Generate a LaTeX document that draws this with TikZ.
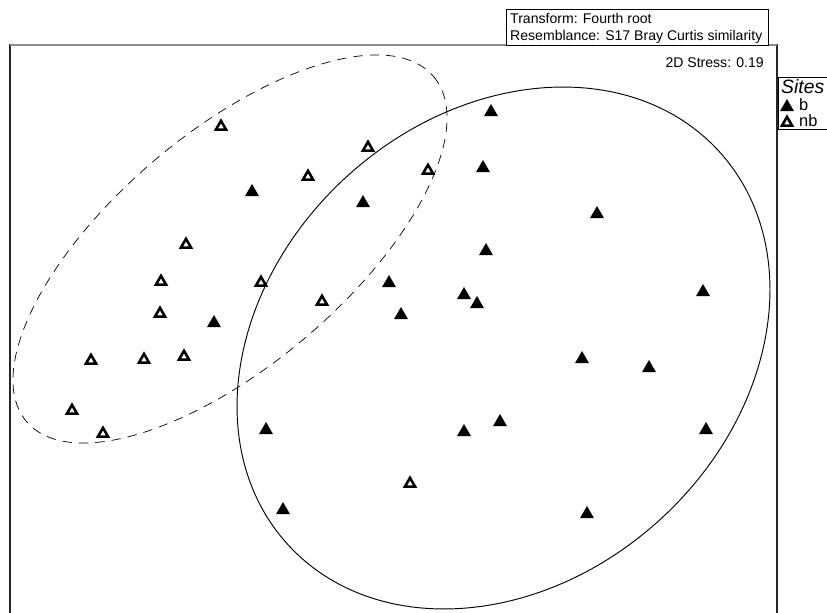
\documentclass[tikz,border=0pt]{standalone}
\usepackage{fontspec}
\setmainfont{Liberation Sans}
\usetikzlibrary{shapes.geometric}

\begin{document}
\begin{tikzpicture}[x=0.03cm,y=-0.03cm,line cap=butt,
  font=\fontsize{12}{14}\selectfont,
  bmark/.style={regular polygon,regular polygon sides=3,fill=black,inner sep=0pt,minimum size=0.48cm,yshift=-0.06cm},
  nbmark/.style={regular polygon,regular polygon sides=3,draw=black,fill=white,line width=2.2pt,inner sep=0pt,minimum size=0.35cm,yshift=-0.05cm},
  infobox/.style={draw=black,line width=0.6pt},
  legtext/.style={anchor=west,inner sep=0pt,font=\fontsize{14}{16}\selectfont}]
\useasboundingbox (0,0) rectangle (827,613);
\clip (0,0) rectangle (827,613);
\fill[white] (0,0) rectangle (827,613);
% plot frame
\draw[black!85,line width=1.3pt] (10,640) -- (10,45) -- (777,45) -- (777,640);
\draw[gray!90,line width=1.3pt] (10,45) -- (777,45);
\draw[infobox,fill=white] (506,9) rectangle (768,45);
\node[anchor=west,inner sep=0pt] (tf) at (510,18) {Transform: Fourth root};
\node[anchor=west,inner sep=0pt] (rs) at (510,37) {Resemblance: S17 Bray Curtis similarity};
\node[anchor=east,inner sep=0pt] (st) at (764,63) {2D Stress: 0.19};
% groups
\draw[line width=0.6pt,dash pattern=on 8pt off 6pt,rotate around={40.28:(230,249)}] (230,249) ellipse [x radius=266.8,y radius=116.4];
\draw[line width=0.8pt,rotate around={42.33:(503.5,348)}] (503.5,348) ellipse [x radius=291.8,y radius=232.3];
% sites
\foreach \px/\py [count=\i] in {491/110,252/190,363/201,483/166,597/212,486/249,389/281,464/293,477/302,401/313,214/321,703/290,582/357,649/366,266/428,464/430,500/420,706/428,283/508,587/512}
  \node[bmark] (b\i) at (\px,\py) {};
\foreach \px/\py [count=\i] in {221/125,368/146,308/175,428/169,186/243,161/280,261/281,160/312,322/300,91/359,144/358,184/355,72/409,103/432,410/482}
  \node[nbmark] (nb\i) at (\px,\py) {};
% legend
\draw[infobox,fill=white] (778,77) rectangle (860,129);
\node[legtext,font=\fontsize{16.5}{18}\selectfont\itshape] (sites) at (781,87) {Sites};
\node[bmark] (lb) at (787,105) {};
\node[legtext] (lbt) at (799,105) {b};
\node[nbmark] (lnb) at (787,121) {};
\node[legtext] (lnbt) at (799,121) {nb};
\end{tikzpicture}
\end{document}
